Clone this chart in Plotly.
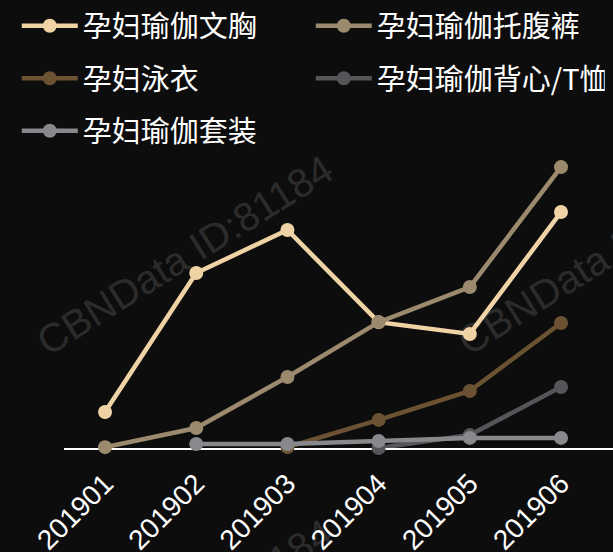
import plotly.graph_objects as go

months = ["201901", "201902", "201903", "201904", "201905", "201906"]

bra = [12.8, 62.3, 77.6, 44.8, 40.6, 84.0]
belly_pants = [0.3, 7.1, 25.3, 44.8, 57.3, 100.0]
swimwear = [None, None, 0.3, 10.0, 20.3, 44.5]
vest_tee = [None, None, None, 0.0, 4.6, 21.7]
yoga_set = [None, 1.4, 1.4, 2.5, 3.6, 3.6]

names = ["孕妇瑜伽文胸", "孕妇瑜伽托腹裤", "孕妇泳衣", "孕妇瑜伽背心/T恤", "孕妇瑜伽套装"]
colors = ["#f0d3a5", "#9c8a6e", "#6b5233", "#54565a", "#87898d"]
series = [bra, belly_pants, swimwear, vest_tee, yoga_set]
legend_ids = ["legend", "legend", "legend2", "legend2", "legend3"]

BG = "#0d0d0d"
CJK = "Noto Sans CJK SC, Noto Sans, sans-serif"

fig = go.Figure()
for name, color, vals, lg in zip(names, colors, series, legend_ids):
    fig.add_trace(go.Scatter(
        x=months, y=vals, name=name, mode="lines+markers",
        line=dict(color=color, width=4.5),
        marker=dict(color=color, size=14),
        cliponaxis=False, connectgaps=False, legend=lg,
    ))

legend_common = dict(
    orientation="h", xanchor="left", yanchor="middle",
    font=dict(family=CJK, size=29, color="#ffffff"),
    bgcolor="rgba(0,0,0,0)", entrywidth=223, entrywidthmode="pixels",
    itemwidth=56, itemclick=False, itemdoubleclick=False,
)

# faint repeating watermark
marks = [
    dict(x=0.22, y=0.643),
    dict(x=0.986, y=0.643),
    dict(x=0.22, y=-0.57),
]

fig.update_layout(
    width=613, height=552,
    paper_bgcolor=BG, plot_bgcolor=BG,
    margin=dict(l=64, r=0, t=148, b=104, autoexpand=False),
    showlegend=True,
    legend=dict(legend_common, x=-0.086, y=1.407),
    legend2=dict(legend_common, x=-0.086, y=1.232),
    legend3=dict(legend_common, x=-0.086, y=1.057),
    xaxis=dict(
        type="category", range=[-0.45, 5.57],
        showline=True, linecolor="#ffffff", linewidth=2,
        showgrid=False, zeroline=False, ticks="", layer="below traces",
        tickangle=-45, ticklabelstandoff=6,
        tickfont=dict(family="Liberation Sans, Arial, sans-serif", size=28, color="#ffffff"),
    ),
    yaxis=dict(range=[0, 106.8], visible=False, showgrid=False, zeroline=False),
    annotations=[
        dict(x=m["x"], y=m["y"], xref="paper", yref="paper", text="CBNData ID:81184",
             showarrow=False, textangle=-32, xanchor="center", yanchor="middle",
             font=dict(family="Liberation Sans Narrow, Liberation Sans, sans-serif", size=40,
                       color="rgba(255,255,255,0.15)"))
        for m in marks
    ],
)

fig.write_html("out.html")
